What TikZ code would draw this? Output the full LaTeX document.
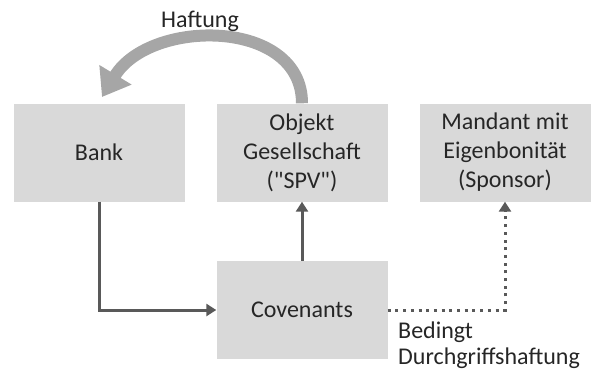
\documentclass[tikz,border=0pt]{standalone}
\usepackage{fontspec}
\setmainfont{Carlito}
\usetikzlibrary{arrows.meta}
\definecolor{boxgray}{HTML}{D9D9D9}
\definecolor{linegray}{HTML}{595959}
\definecolor{arcgray}{HTML}{A6A6A6}
\definecolor{txt}{HTML}{262626}
\begin{document}
\begin{tikzpicture}[x=1pt,y=1pt,
  box/.style={fill=boxgray,draw=none,minimum width=171pt,minimum height=98pt,inner sep=0pt,align=center,text=txt,font=\fontsize{24}{29}\selectfont},
  conn/.style={draw=linegray,line width=3pt,-{Triangle[width=12pt,length=10pt]}},
  dotconn/.style={draw=linegray,line width=3pt,dash pattern=on 3pt off 4.7pt,-{Triangle[width=12pt,length=10pt]}},
  lbl/.style={text=txt,font=\fontsize{24}{26}\selectfont,inner sep=0pt}]
\useasboundingbox (0,0) rectangle (595,-373);
\node[box] (bank) at (99,-152.5) {Bank};
\node[box] (obj) at (302,-152.5) {Objekt\\Gesellschaft\\(\textquotedbl SPV\textquotedbl)};
\node[box] (mand) at (505,-152.5) {Mandant mit\\Eigenbonität\\(Sponsor)};
\node[box] (cov) at (302,-310) {Covenants};
\node[lbl] (haft) at (200,-21) {Haftung};
\node[lbl,align=left,anchor=north west] (bed) at (398,-322) {Bedingt\\Durchgriffshaftung};
\coordinate (htip) at (102,-97);
\draw[conn] (bank.south) |- (cov.west);
\draw[conn] (cov.north) -- (obj.south);
\draw[dotconn] (cov.east) -| (mand.south);
\draw[arcgray,line width=12pt,-{Triangle[width=36pt,length=26pt]}]
  (obj.north) .. controls (302,-18) and (150,-18) .. (htip);
\end{tikzpicture}
\end{document}
